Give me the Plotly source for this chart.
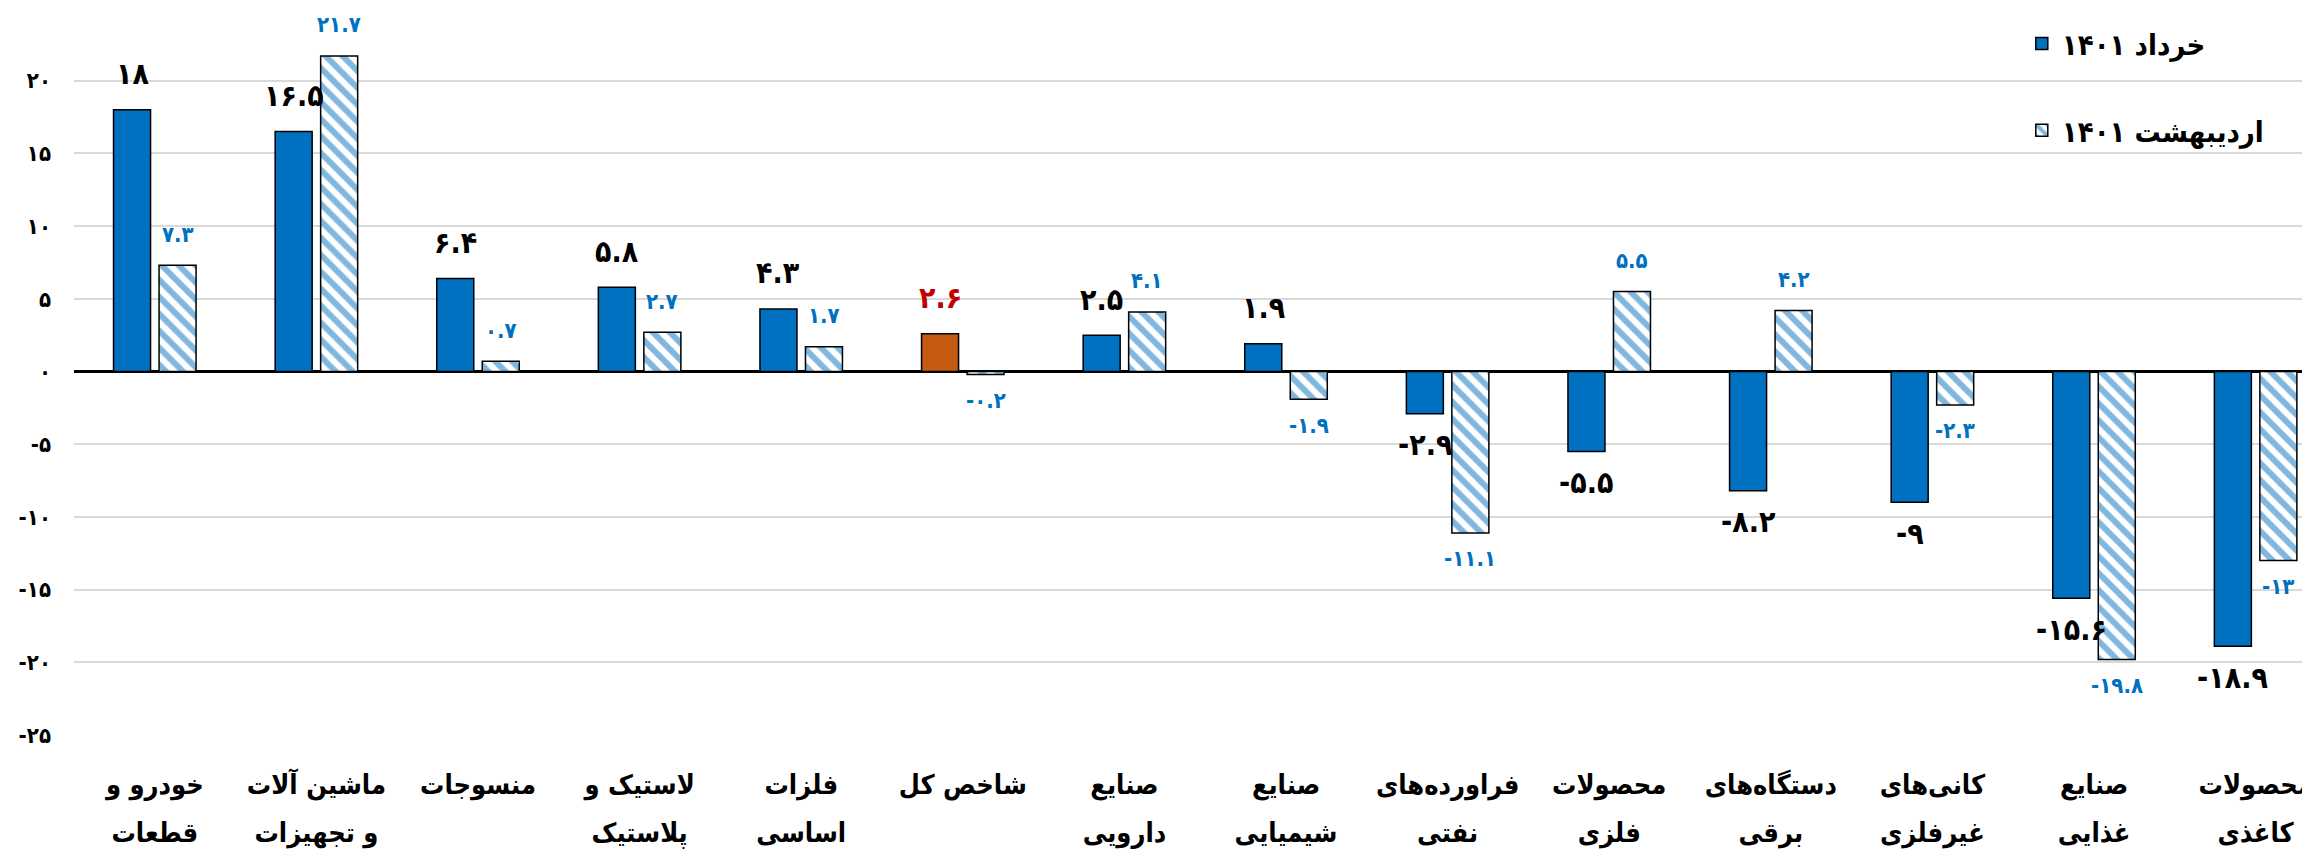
import plotly.graph_objects as go

# داده‌ها
cat_line1 = ['خودرو و', 'ماشین آلات', 'منسوجات', 'لاستیک و', 'فلزات', 'شاخص کل', 'صنایع',
             'صنایع', 'فراورده‌های', 'محصولات', 'دستگاه‌های', 'کانی‌های', 'صنایع', 'محصولات']
cat_line2 = ['قطعات', 'و تجهیزات', '', 'پلاستیک', 'اساسی', '', 'دارویی',
             'شیمیایی', 'نفتی', 'فلزی', 'برقی', 'غیرفلزی', 'غذایی', 'کاغذی']
khordad = [18, 16.5, 6.4, 5.8, 4.3, 2.6, 2.5, 1.9, -2.9, -5.5, -8.2, -9, -15.6, -18.9]
ordibehesht = [7.3, 21.7, 0.7, 2.7, 1.7, -0.2, 4.1, -1.9, -11.1, 5.5, 4.2, -2.3, -19.8, -13]
y_ticks = [-25, -20, -15, -10, -5, 0, 5, 10, 15, 20, 25]

categories = [(a + ' ' + b).strip() for a, b in zip(cat_line1, cat_line2)]
total_idx = cat_line1.index('شاخص کل')

FA = str.maketrans('0123456789', '۰۱۲۳۴۵۶۷۸۹')


def fa(v):
    return f'{v:g}'.translate(FA)


BLUE = '#0070C0'
FONT = 'DejaVu Sans Condensed, DejaVu Sans'
BAR_W = 0.229      # عرض هر ستون (واحد دسته)
HALF = 0.1408      # فاصله مرکز ستون از مرکز دسته
PX = 161.6         # پهنای هر دسته به پیکسل

bar_colors = [BLUE] * len(khordad)
bar_colors[total_idx] = '#C55A11'
text_colors = ['black'] * len(khordad)
text_colors[total_idx] = '#C00000'

fig = go.Figure()

fig.add_trace(go.Bar(
    x=categories, y=khordad, name='خرداد ۱۴۰۱',
    width=BAR_W, offset=-HALF - BAR_W / 2,
    marker=dict(color=bar_colors, line=dict(color='black', width=1.5)),
    legendgroup='a', xaxis='x', yaxis='y',
))
fig.add_trace(go.Bar(
    x=categories, y=ordibehesht, name='اردیبهشت ۱۴۰۱',
    width=BAR_W, offset=HALF - BAR_W / 2,
    marker=dict(color='white', line=dict(color='black', width=1.5),
                pattern=dict(shape='\\', fgcolor=BLUE, bgcolor='white', size=12, solidity=0.5)),
    legendgroup='b', xaxis='x2', yaxis='y',
))

# برچسب مقادیر
for c, v, col in zip(categories, khordad, text_colors):
    fig.add_annotation(x=c, y=v, xref='x', yref='y', text=fa(v), showarrow=False,
                       xshift=-HALF * PX, yshift=36 if v >= 0 else -31,
                       font=dict(size=30, color=col, weight='bold'))
for c, v in zip(categories, ordibehesht):
    fig.add_annotation(x=c, y=v, xref='x', yref='y', text=fa(v), showarrow=False,
                       xshift=HALF * PX, yshift=31 if v >= 0 else -26,
                       font=dict(size=22, color=BLUE, weight='bold'))

axis_common = dict(
    type='category', categoryarray=categories, range=[-0.5, 13.386],
    tickvals=categories, tickfont=dict(size=27, weight='bold'), automargin=False,
    showgrid=False, showline=False, ticks='', zeroline=False, fixedrange=True,
)

fig.update_layout(
    width=2310, height=855,
    margin=dict(l=66, r=0, t=0, b=128),
    plot_bgcolor='white', paper_bgcolor='white',
    barmode='overlay',
    font=dict(family=FONT, color='black'),
    showlegend=True,
    legend=dict(
        x=0.868, y=0.986, xanchor='left', yanchor='top',
        font=dict(size=29, weight='bold'), tracegroupgap=46,
        bgcolor='rgba(0,0,0,0)',
    ),
    xaxis=dict(ticktext=cat_line1, ticklabelstandoff=31, **axis_common),
    xaxis2=dict(ticktext=cat_line2, ticklabelstandoff=79, matches='x', overlaying='x',
                anchor='y', side='bottom', **axis_common),
    yaxis=dict(
        range=[-25, 25], tickvals=y_ticks, ticktext=[fa(v) for v in y_ticks],
        tickfont=dict(size=22, weight='bold'), ticklabelstandoff=22, automargin=False,
        showgrid=True, gridcolor='#D9D9D9', gridwidth=2,
        zeroline=True, zerolinecolor='black', zerolinewidth=2.5, showline=False,
    ),
)

fig.write_html('out.html')
